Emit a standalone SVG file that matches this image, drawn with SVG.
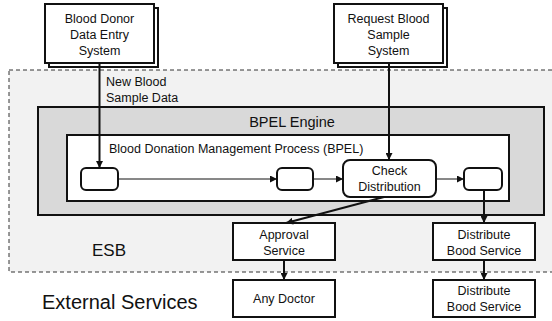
<svg xmlns="http://www.w3.org/2000/svg" width="552" height="321" viewBox="0 0 552 321">
<style>
text{font-family:"Liberation Sans",Arial,sans-serif;fill:#111;}
.t{font-size:12.5px;text-anchor:middle;}
.box{fill:#fff;stroke:#111;stroke-width:2;}
.act{fill:#fff;stroke:#111;stroke-width:2;}
.thin{stroke:#111;stroke-width:1;fill:none;}
.thick{stroke:#111;stroke-width:2;fill:none;}
</style>
<defs>
<marker id="ah" viewBox="0 0 10 10" refX="10" refY="5" markerWidth="7" markerHeight="7" markerUnits="userSpaceOnUse" orient="auto">
<path d="M0,0 L10,5 L0,10 z" fill="#111"/>
</marker>
</defs>
<g id="esb">
<rect x="9" y="70" width="546" height="202" fill="#f2f2f2" stroke="#333" stroke-width="1" stroke-dasharray="4 3"/>
<text x="92" y="256" style="font-size:17px">ESB</text>
</g>
<text id="external-label" x="42" y="309" style="font-size:20px">External Services</text>
<g id="bpel-engine">
<rect x="38" y="107" width="506" height="108" fill="#d9d9d9" stroke="#111" stroke-width="2"/>
<text x="292" y="127" style="font-size:14.5px;text-anchor:middle">BPEL Engine</text>
</g>
<g id="bpel-process">
<rect x="67" y="135" width="442" height="66" fill="#fff" stroke="#111" stroke-width="2"/>
<text x="109" y="153" style="font-size:12.5px">Blood Donation Management Process (BPEL)</text>
</g>
<g id="donor-system">
<rect x="49" y="8" width="109" height="59" class="box"/>
<rect x="45" y="4" width="109" height="59" class="box"/>
<text class="t" x="99.5" y="23">Blood Donor</text>
<text class="t" x="99.5" y="39">Data Entry</text>
<text class="t" x="99.5" y="55">System</text>
</g>
<g id="request-system">
<rect x="338" y="8" width="109" height="59" class="box"/>
<rect x="334" y="4" width="109" height="59" class="box"/>
<text class="t" x="388.5" y="23">Request Blood</text>
<text class="t" x="388.5" y="39">Sample</text>
<text class="t" x="388.5" y="55">System</text>
</g>
<g id="act1"><rect x="81" y="168" width="37" height="22" rx="5" class="act"/></g>
<g id="act2"><rect x="277" y="168" width="36" height="22" rx="5" class="act"/></g>
<g id="check-distribution">
<rect x="343" y="160" width="93" height="37" rx="7" class="act"/>
<text class="t" x="389.5" y="175">Check</text>
<text class="t" x="389.5" y="191">Distribution</text>
</g>
<g id="act3"><rect x="464" y="168" width="38" height="22" rx="5" class="act"/></g>
<g id="approval-service">
<rect x="233" y="223" width="102" height="37" class="box"/>
<text class="t" x="284" y="239">Approval</text>
<text class="t" x="284" y="255">Service</text>
</g>
<g id="distribute-service-esb">
<rect x="433" y="223" width="102" height="37" class="box"/>
<text class="t" x="484" y="239">Distribute</text>
<text class="t" x="484" y="255">Bood Service</text>
</g>
<g id="any-doctor">
<rect x="233" y="280" width="102" height="37" class="box"/>
<text class="t" x="284" y="303">Any Doctor</text>
</g>
<g id="distribute-service-ext">
<rect x="433" y="280" width="102" height="37" class="box"/>
<text class="t" x="484" y="295">Distribute</text>
<text class="t" x="484" y="311">Bood Service</text>
</g>
<g id="connectors">
<line x1="99.5" y1="63" x2="99.5" y2="168" class="thick" marker-end="url(#ah)"/>
<text x="106" y="86" style="font-size:12.5px">New Blood</text>
<text x="106" y="102" style="font-size:12.5px">Sample Data</text>
<line x1="389" y1="63" x2="389" y2="160" class="thick" marker-end="url(#ah)"/>
<line x1="118" y1="179" x2="277" y2="179" class="thin" marker-end="url(#ah)"/>
<line x1="313" y1="179" x2="343" y2="179" class="thin" marker-end="url(#ah)"/>
<line x1="436" y1="179" x2="464" y2="179" class="thin" marker-end="url(#ah)"/>
<line x1="384" y1="197" x2="286" y2="223" class="thick" marker-end="url(#ah)"/>
<line x1="484" y1="190" x2="484" y2="223" class="thick" marker-end="url(#ah)"/>
<line x1="284" y1="260" x2="284" y2="280" class="thick" marker-end="url(#ah)"/>
<line x1="484" y1="260" x2="484" y2="280" class="thick" marker-end="url(#ah)"/>
</g>
</svg>
